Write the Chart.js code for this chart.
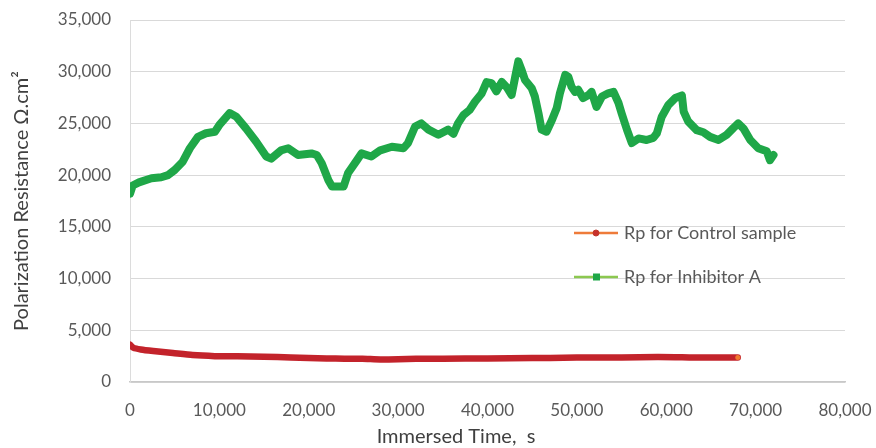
<!DOCTYPE html>
<html>
<head>
<meta charset="utf-8">
<script src="https://cdn.jsdelivr.net/npm/chart.js@4.4.1/dist/chart.umd.min.js"></script>
<style>
  html, body { margin: 0; padding: 0; background: #ffffff; }
  #wrap { width: 876px; height: 448px; position: relative; }
</style>
</head>
<body>
<div id="wrap"><canvas id="c" width="876" height="448"></canvas></div>
<script>
// Polarization resistance vs immersion time
const seriesLabels = ['Rp for Control sample', 'Rp for Inhibitor A'];

const timeControl = [0, 400, 1200, 2600, 4800, 7000, 9500, 12000, 15000, 18000, 20000,
  22000, 24000, 26000, 28000, 30000, 32000, 35000, 40000, 45000, 47000, 50000, 55000,
  59000, 61000, 63000, 66000, 68000];
const rpControl = [3600, 3300, 3150, 3000, 2800, 2600, 2500, 2480, 2440, 2380, 2330,
  2270, 2260, 2250, 2180, 2200, 2250, 2260, 2270, 2310, 2330, 2360, 2370,
  2420, 2400, 2360, 2370, 2360];

const timeInhibitor = [0, 300, 1000, 2400, 3500, 4250, 5000, 5900, 6700, 7600, 8500, 9500,
  10000, 11150, 11900, 13000, 14100, 15250, 15800, 16900, 17700, 18800, 20300, 20900,
  21450, 22200, 22600, 23900, 24400, 25400, 25900, 27000, 28000, 29300, 30600, 31100,
  31900, 32600, 33400, 34500, 35600, 36200, 36700, 37300, 38000, 38600, 39350, 39900,
  40450, 41000, 41600, 42150, 42700, 43100, 43450, 43800, 44200, 44950, 45300, 45700,
  46050, 46600, 47200, 47750, 48100, 48700, 49050, 49400, 49800, 50150, 50700, 51300,
  51650, 52200, 52800, 53500, 54100, 54650, 55000, 55600, 56150, 56900, 57800, 58550,
  58950, 59500, 60250, 61000, 61750, 61950, 62450, 63400, 64150, 64900, 65850, 66750,
  67500, 68050, 68650, 69400, 70300, 71250, 71600, 72000];
const rpInhibitor = [18200, 19000, 19300, 19700, 19800, 20000, 20500, 21300, 22600, 23700, 24050, 24200,
  24850, 26000, 25650, 24500, 23250, 21800, 21600, 22400, 22600, 21950, 22100, 21950,
  21150, 19500, 18900, 18900, 20200, 21450, 22100, 21800, 22400, 22750, 22600, 23100,
  24700, 25000, 24400, 23900, 24400, 24000, 25000, 25800, 26300, 27100, 27900, 29000,
  28900, 28100, 29000, 28500, 27750, 29500, 31000, 30200, 29200, 28400, 27600, 26000,
  24400, 24200, 25300, 26500, 27900, 29700, 29500, 28550, 28050, 28250, 27450, 27750,
  28050, 26600, 27600, 27900, 28050, 27000, 26000, 24400, 23100, 23550, 23400, 23600,
  24050, 25650, 26800, 27450, 27700, 26150, 25200, 24350, 24150, 23700, 23400, 23900,
  24550, 25000, 24500, 23400, 22600, 22300, 21450, 21950];

const xTicks = [0, 10000, 20000, 30000, 40000, 50000, 60000, 70000, 80000];
const yTicks = [0, 5000, 10000, 15000, 20000, 25000, 30000, 35000];

const xTitle = 'Immersed Time,  s';
const yTitle = 'Polarization Resistance \u03A9.cm\u00B2';

const FONT = 'Lato, "Open Sans", "Liberation Sans", sans-serif';
const TICK_COLOR = '#595959';
const TITLE_COLOR = '#404040';
const GRID_COLOR = '#d9d9d9';
const CLEAR = 'rgba(0,0,0,0)';

const controlColors = { line: '#c3232b', legendLine: '#ee7b3a', marker: '#c8302c', endDot: '#f07a30' };
const inhibitorColors = { line: '#1fa748', legendLine: '#8cc850', marker: '#1fa748' };

function toPoints(xs, ys) {
  return xs.map((x, i) => ({ x: x, y: ys[i] }));
}
const fmt = v => Number(v).toLocaleString('en-US');

// Legend inside the plot area, plus the horizontal axis title
const overlay = {
  id: 'overlay',
  afterDraw(chart) {
    const ctx = chart.ctx;
    const rows = [
      { label: seriesLabels[0], c: controlColors, shape: 'circle', y: 233 },
      { label: seriesLabels[1], c: inhibitorColors, shape: 'square', y: 277 }
    ];
    ctx.save();
    rows.forEach(r => {
      ctx.strokeStyle = r.c.legendLine;
      ctx.lineWidth = 2.5;
      ctx.beginPath();
      ctx.moveTo(574, r.y);
      ctx.lineTo(618, r.y);
      ctx.stroke();
      ctx.fillStyle = r.c.marker;
      if (r.shape === 'circle') {
        ctx.beginPath();
        ctx.arc(596, r.y, 3, 0, Math.PI * 2);
        ctx.fill();
        ctx.strokeStyle = '#c0392b';
        ctx.lineWidth = 1;
        ctx.stroke();
      } else {
        ctx.fillRect(593, r.y - 3.5, 7, 7);
      }
      ctx.fillStyle = TICK_COLOR;
      ctx.font = '18px ' + FONT;
      ctx.textBaseline = 'middle';
      ctx.textAlign = 'left';
      ctx.fillText(r.label, 624, r.y);
    });
    ctx.fillStyle = TITLE_COLOR;
    ctx.font = '20px ' + FONT;
    ctx.textAlign = 'center';
    ctx.textBaseline = 'middle';
    ctx.fillText(xTitle, 456, 437);
    ctx.restore();
  }
};

const lastIdx = timeControl.length - 1;

new Chart(document.getElementById('c'), {
  type: 'line',
  data: {
    datasets: [
      {
        label: seriesLabels[0],
        data: toPoints(timeControl, rpControl),
        borderColor: controlColors.line,
        borderWidth: 6.5,
        borderJoinStyle: 'round',
        borderCapStyle: 'round',
        tension: 0.2,
        pointRadius: ctx => (ctx.dataIndex === lastIdx ? 2.5 : 0),
        pointBackgroundColor: controlColors.endDot,
        pointBorderWidth: 0
      },
      {
        label: seriesLabels[1],
        data: toPoints(timeInhibitor, rpInhibitor),
        borderColor: inhibitorColors.line,
        borderWidth: 8,
        borderJoinStyle: 'round',
        borderCapStyle: 'round',
        tension: 0,
        pointRadius: 0
      }
    ]
  },
  options: {
    responsive: false,
    animation: false,
    devicePixelRatio: 1,
    layout: { padding: { top: 20, right: 31, bottom: 0, left: 0 } },
    plugins: { legend: { display: false }, tooltip: { enabled: false } },
    scales: {
      x: {
        type: 'linear',
        min: 0,
        max: 80000,
        afterFit: s => { s.height = 66; },
        afterBuildTicks: s => { s.ticks = xTicks.map(v => ({ value: v })); },
        grid: { display: false, drawTicks: true, tickLength: 18, tickColor: CLEAR },
        border: { display: true, color: '#c8c8c8', width: 1.5 },
        ticks: {
          autoSkip: false, maxRotation: 0, padding: 0,
          color: TICK_COLOR, font: { family: FONT, size: 17 },
          callback: v => fmt(v)
        },
        title: { display: false }
      },
      y: {
        min: 0,
        max: 35000,
        afterFit: s => { s.width = 130; },
        afterBuildTicks: s => { s.ticks = yTicks.map(v => ({ value: v })); },
        grid: { color: GRID_COLOR, lineWidth: 1, drawTicks: true, tickLength: 19, tickColor: CLEAR },
        border: { display: true, color: '#dcdcdc', width: 1 },
        ticks: {
          padding: 0, color: TICK_COLOR, font: { family: FONT, size: 17 },
          callback: v => fmt(v)
        },
        title: {
          display: true, text: yTitle, color: TITLE_COLOR,
          font: { family: FONT, size: 20 }, padding: { top: 10, bottom: 0 }
        }
      }
    }
  },
  plugins: [overlay]
});
</script>
</body>
</html>
